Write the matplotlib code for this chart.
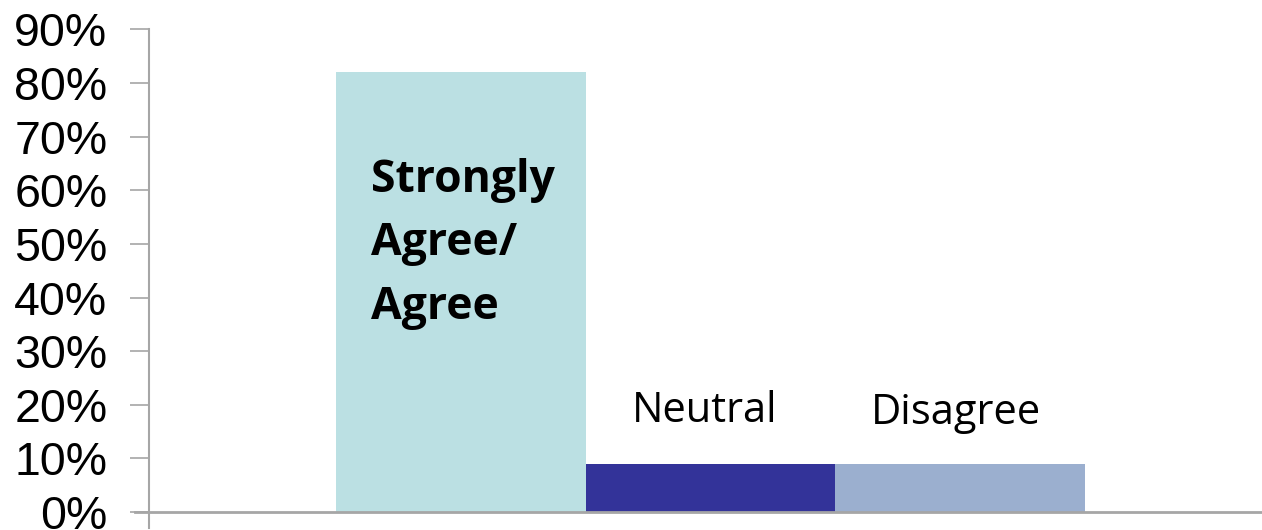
import matplotlib
matplotlib.use("Agg")
import matplotlib.pyplot as plt
from matplotlib.ticker import FuncFormatter

categories = ["Strongly\nAgree/\nAgree", "Neutral", "Disagree"]
values = [82, 9, 9]
ticks = [0, 10, 20, 30, 40, 50, 60, 70, 80, 90]
colors = ["#BBE0E3", "#333399", "#9BAFCF"]

W, H = 1262, 530
fig = plt.figure(figsize=(W / 100, H / 100), dpi=100)
# axes: left spine x=149, right ~1273, y zero at 512, 90% at 29.4
ax = fig.add_axes([149 / W, (H - 512) / H, (1273 - 149) / W, (512 - 29.4) / H])

x = list(range(len(values)))
ax.bar(x, values, width=1.0, color=colors, edgecolor="none", zorder=2)
ax.set_xlim(-1.25, 3.255)
ax.set_ylim(0, 90)
ax.set_yticks(ticks)
ax.yaxis.set_major_formatter(FuncFormatter(lambda v, p: f"{int(v)}%"))
for lab in ax.get_yticklabels():
    lab.set_fontfamily("Liberation Sans")
    lab.set_fontsize(33.5)
ax.tick_params(axis="y", length=14, width=1.2, color="#A6A6A6", pad=16)
ax.tick_params(axis="x", length=0, labelbottom=False)
for s in ["top", "right"]:
    ax.spines[s].set_visible(False)
ax.spines["left"].set_color("#A6A6A6")
ax.spines["left"].set_linewidth(1.5)
ax.spines["left"].set_bounds(-3, 90)
ax.spines["bottom"].set_visible(False)
ax.axhline(0, xmin=-14 / 1124, xmax=1, color="#A6A6A6", lw=2, clip_on=False, zorder=3)
ax.patch.set_alpha(0)

# labels
ax.annotate(categories[0], xy=(0, 0), xycoords="data", xytext=(371, H - 319),
            textcoords="figure pixels", ha="left", va="baseline",
            fontsize=32, fontweight="bold", fontfamily="Open Sans", linespacing=1.55)
ax.annotate(categories[1], xy=(0, 0), xytext=(705, H - 422), textcoords="figure pixels",
            ha="center", va="baseline", fontsize=30, fontfamily="Open Sans")
ax.annotate(categories[2], xy=(0, 0), xytext=(956, H - 424), textcoords="figure pixels",
            ha="center", va="baseline", fontsize=30, fontfamily="Open Sans")

fig.savefig("out.png", dpi=100)
